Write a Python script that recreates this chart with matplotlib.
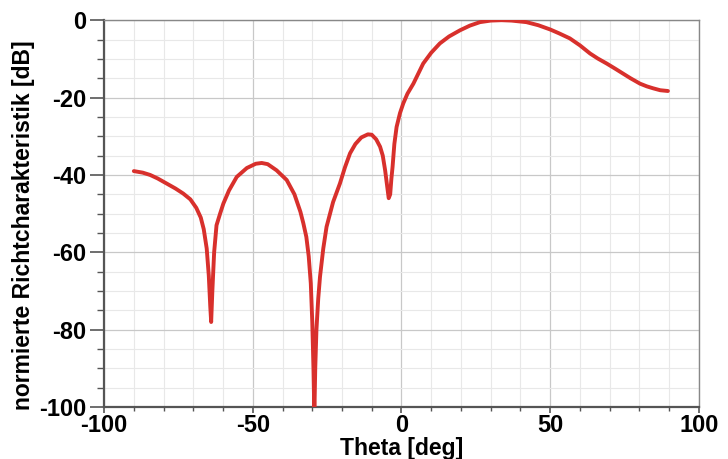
import matplotlib.pyplot as plt
from matplotlib.ticker import MultipleLocator

# %%
## Data
theta = [-90, -87, -84.5, -82, -79, -76, -73.4, -71, -69, -67.5, -66.5, -65.5,
         -64.8, -64.3, -64.0, -63.6, -63.0, -62.2, -61, -59.9, -58, -55.4, -52,
         -49, -47, -45, -42, -38.6, -36, -34, -33, -32, -31.2, -30.5, -30, -29.6,
         -29.3, -29.0, -28.6, -28, -27.4, -26.3, -25.2, -23, -20.7, -19, -17.3,
         -15.5, -13.5, -11.3, -10, -8.5, -7.2, -6.3, -5.5, -4.8, -4.3, -3.8,
         -3.4, -3.0, -2.4, -1.65, -0.5, 0.6, 2, 4, 7.3, 10, 12.9, 16, 19.7, 23,
         26.4, 30, 33.6, 37, 42, 46, 50, 53, 56.6, 60, 63.4, 66, 69, 72, 74.5,
         77, 80.2, 82.5, 84.6, 87, 89.6]
gain_db = [-39.0, -39.4, -40.0, -40.9, -42.2, -43.5, -44.8, -46.3, -48.5, -51,
           -54, -59, -66, -74, -78, -70, -60, -53, -50, -47.4, -44, -40.5, -38.2,
           -37.1, -36.9, -37.2, -38.8, -41.3, -45, -49.5, -52.5, -56, -61, -68,
           -78, -90, -102, -90, -80, -72, -66.3, -59, -53.4, -47, -42.2, -38,
           -34.4, -32, -30.3, -29.5, -29.6, -30.8, -32.7, -35, -38.8, -43, -46,
           -45, -41, -37.9, -32, -27.6, -24, -21.5, -19, -16.4, -11.2, -8.4,
           -6.0, -4.2, -2.6, -1.4, -0.5, -0.1, 0, -0.1, -0.5, -1.3, -2.4, -3.4,
           -4.7, -6.5, -8.6, -9.9, -11.2, -12.6, -13.8, -15.0, -16.4, -17.1,
           -17.6, -18.1, -18.3]

# %%
plt.rcParams["font.family"] = ["Liberation Sans", "DejaVu Sans"]
plt.rcParams["font.weight"] = "bold"
plt.rcParams["axes.unicode_minus"] = False

fig = plt.figure(figsize=(7.28, 4.59), dpi=100)
ax = fig.add_axes([0.143, 0.113, 0.817, 0.843])

ax.plot(theta, gain_db, color="#d8302c", lw=2.8, solid_joinstyle="round",
        solid_capstyle="round", zorder=3)

ax.set_xlim(-100, 100)
ax.set_ylim(-100, 0)
ax.xaxis.set_major_locator(MultipleLocator(50))
ax.xaxis.set_minor_locator(MultipleLocator(10))
ax.yaxis.set_major_locator(MultipleLocator(20))
ax.yaxis.set_minor_locator(MultipleLocator(5))

ax.grid(which="major", color="#c8c8c8", lw=0.9)
ax.grid(which="minor", color="#e8e8e8", lw=0.8)
ax.set_axisbelow(True)

for side in ["left", "bottom"]:
    ax.spines[side].set_color("#555555")
    ax.spines[side].set_linewidth(1.6)
for side in ["top", "right"]:
    ax.spines[side].set_color("#888888")
    ax.spines[side].set_linewidth(1.0)

ax.tick_params(axis="x", which="major", length=4, width=1.2, color="#555555",
               labelsize=17, pad=1)
ax.tick_params(axis="x", which="minor", length=3, width=1.0, color="#555555")
ax.tick_params(axis="y", which="major", length=10, width=1.2, color="#555555",
               labelsize=17, pad=3)
ax.tick_params(axis="y", which="minor", length=5, width=1.0, color="#555555")
for lab in ax.get_xticklabels() + ax.get_yticklabels():
    lab.set_fontweight("bold")

ax.set_xlabel("Theta [deg]", fontsize=16.5, fontweight="bold")
ax.xaxis.set_label_coords(0.5, -0.078)
ax.set_ylabel("normierte Richtcharakteristik [dB]", fontsize=16.5,
              fontweight="bold", labelpad=2)
ax.yaxis.set_label_coords(-0.117, 0.47)

fig.savefig("out.png", dpi=100)
